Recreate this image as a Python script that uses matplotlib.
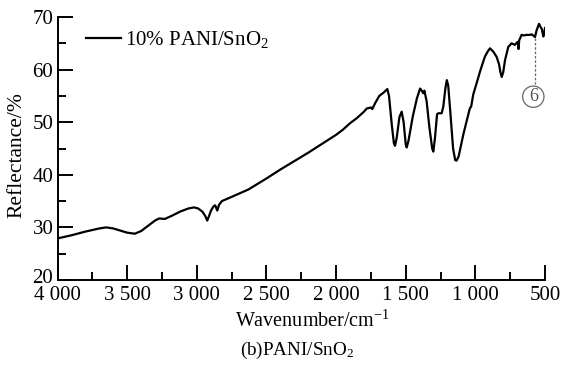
import numpy as np
import matplotlib
matplotlib.use('Agg')
import matplotlib.pyplot as plt
import matplotlib.transforms as mtransforms
from matplotlib.ticker import MultipleLocator

plt.rcParams['font.family'] = ['Liberation Serif', 'DejaVu Serif']
plt.rcParams['mathtext.fontset'] = 'custom'
plt.rcParams['mathtext.rm'] = 'Liberation Serif'
plt.rcParams['mathtext.it'] = 'Liberation Serif:italic'

# 光谱数据
wavenumber = [4000, 3900, 3800, 3700, 3650, 3600, 3550, 3500, 3445, 3400, 3350, 3300, 3270, 3230,
              3180, 3120, 3060, 3020, 2990, 2960, 2940, 2925, 2910, 2898, 2880, 2868, 2853, 2840,
              2820, 2750, 2630, 2500, 2400, 2300, 2200, 2100, 2000, 1950, 1900, 1850, 1800, 1780,
              1750, 1740, 1720, 1690, 1660, 1632, 1620, 1600, 1585, 1577, 1565, 1545, 1529, 1515,
              1500, 1493, 1480, 1450, 1420, 1397, 1385, 1374, 1366, 1350, 1330, 1310, 1302, 1290,
              1275, 1266, 1242, 1230, 1215, 1205, 1195, 1180, 1160, 1145, 1135, 1120, 1100, 1087,
              1060, 1040, 1030, 1015, 990, 967, 950, 931, 910, 895, 871, 847, 830, 820, 811, 800,
              787, 764, 740, 716, 700, 692, 690, 685, 668, 650, 632, 610, 596, 580, 572, 560, 543,
              530, 524, 512, 505, 500]
reflectance = [27.9, 28.5, 29.2, 29.8, 30.0, 29.8, 29.4, 29.0, 28.8, 29.3, 30.3, 31.3, 31.7, 31.6,
               32.2, 33.0, 33.6, 33.8, 33.6, 33.0, 32.2, 31.3, 32.3, 33.2, 34.0, 34.2, 33.2, 34.3,
               35.0, 35.8, 37.2, 39.3, 41.0, 42.6, 44.2, 45.9, 47.6, 48.6, 49.8, 50.8, 52.0, 52.6,
               52.8, 52.5, 53.6, 55.0, 55.6, 56.3, 55.0, 49.5, 46.0, 45.5, 47.0, 51.0, 52.0, 50.0,
               45.8, 45.2, 46.5, 51.0, 54.5, 56.4, 56.0, 55.5, 56.0, 54.0, 49.0, 45.0, 44.4, 47.0,
               51.5, 51.7, 51.7, 53.0, 56.5, 58.0, 57.0, 52.0, 45.0, 42.8, 42.7, 43.5, 46.0, 47.6,
               50.5, 52.6, 53.0, 55.3, 57.5, 59.6, 61.0, 62.5, 63.5, 64.05, 63.4, 62.4, 61.0, 59.5, 58.6, 59.5,
               61.8, 64.3, 65.0, 64.7, 65.2, 65.3, 63.9, 65.6, 66.6, 66.5, 66.6, 66.6, 66.7, 66.4, 66.2, 67.5, 68.7,
               68.0, 67.8, 66.3, 67.2, 67.9]

x_ticks = [4000, 3500, 3000, 2500, 2000, 1500, 1000, 500]
x_ticklabels = ['4 000', '3 500', '3 000', '2 500', '2 000', '1 500', '1 000', '500']
y_ticks = [20, 30, 40, 50, 60, 70]

fig = plt.figure(figsize=(5.61, 3.65), dpi=100)
ax = fig.add_axes([0.1025, 0.2329, 0.8690, 0.7205])

ax.plot(wavenumber, reflectance, color='black', linewidth=1.6, label='10% PANI/SnO$_2$')
ax.set_xlim(4000, 500)
ax.set_ylim(20, 70)

ax.set_xticks(x_ticks)
ax.set_xticklabels(x_ticklabels)
ax.xaxis.set_minor_locator(MultipleLocator(250))
ax.set_yticks(y_ticks)
ax.yaxis.set_minor_locator(MultipleLocator(5))

ax.spines['top'].set_visible(False)
ax.spines['right'].set_visible(False)
ax.spines['left'].set_linewidth(1.4)
ax.spines['bottom'].set_linewidth(1.4)
ax.tick_params(which='major', direction='in', length=10.5, width=1.4, labelsize=15)
ax.tick_params(axis='x', which='major', pad=4.5)
ax.tick_params(axis='y', which='major', pad=3)
ax.tick_params(which='minor', direction='in', length=5.5, width=1.4)

# 把“20”稍微上移，避免与“4 000”重叠
lbl20 = ax.get_yticklabels()[0]
lbl20.set_transform(lbl20.get_transform() + mtransforms.ScaledTranslation(0, 4/100, fig.dpi_scale_trans))

ax.set_xlabel('Wavenumber/cm$^{-1}$', fontsize=14.5)
ax.set_ylabel('Reflectance/%', fontsize=15.5)
ax.xaxis.set_label_coords(0.522, -0.118)
ax.yaxis.set_label_coords(-0.063, 0.475)

ax.legend(loc='upper left', bbox_to_anchor=(0.058, 0.955), frameon=False, fontsize=15,
          handlelength=1.7, handletextpad=0.2, borderpad=0, borderaxespad=0)

# 标注 ⑥
ax.plot([572, 572], [66.0, 57.2], color='#666666', linestyle=(0, (2, 1.5)), linewidth=0.9)
ax.text(584, 54.85, '6', ha='center', va='center', fontsize=13, color='#555555',
        bbox=dict(boxstyle='circle,pad=0.12', fc='white', ec='#666666', lw=0.9))

fig.text(0.529, 0.041, '(b)PANI/SnO$_2$', ha='center', va='center', fontsize=13.8)

plt.savefig('out.png', dpi=100)
